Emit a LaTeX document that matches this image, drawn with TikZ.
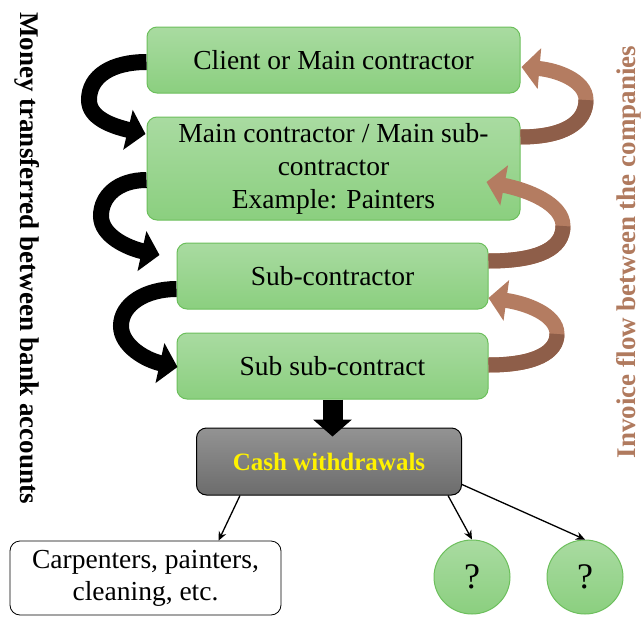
\documentclass[tikz,border=0pt]{standalone}
\usepackage{fontspec}
\setmainfont{Liberation Serif}
\usetikzlibrary{arrows.meta,calc,shapes.geometric}

\definecolor{boxtop}{HTML}{A9DBA1}
\definecolor{boxbot}{HTML}{8BCF7F}
\definecolor{boxedge}{HTML}{6CBF5C}
\definecolor{cashtop}{HTML}{939393}
\definecolor{cashbot}{HTML}{6C6C6C}
\definecolor{brownlt}{HTML}{B47C61}
\definecolor{browndk}{HTML}{8E5E49}
\definecolor{invtext}{HTML}{B07A5E}

\tikzset{
  firm/.style={draw=boxedge, line width=1pt, rounded corners=10pt,
    top color=boxtop, bottom color=boxbot, align=center,
    font=\fontsize{27.5}{33}\selectfont, inner sep=0pt},
  cashbox/.style={draw=black, line width=1pt, rounded corners=10pt,
    top color=cashtop, bottom color=cashbot, text=yellow,
    font=\bfseries\fontsize{25}{30}\selectfont, inner sep=0pt},
  workers/.style={draw=black, line width=0.8pt, rounded corners=10pt,
    fill=white, align=center, font=\fontsize{27.5}{32}\selectfont, inner sep=0pt},
  unknown/.style={draw=boxedge, line width=1pt, ellipse,
    top color=boxtop, bottom color=boxbot, minimum width=76pt,
    minimum height=74pt, font=\fontsize{36}{36}\selectfont, inner sep=0pt},
  money/.style={draw=black, line width=16pt,
    -{Triangle[length=18pt,width=40pt]}},
  invoice/.style={draw=brownlt, line width=15pt,
    -{Triangle[length=18pt,width=40pt]}},
  invback/.style={draw=browndk, line width=15pt},
  payout/.style={draw=black, line width=1.3pt, -{Stealth[length=9pt,width=8pt]}},
  sidelabel/.style={font=\bfseries\fontsize{27}{30}\selectfont, inner sep=0pt}
}

\begin{document}
\begin{tikzpicture}[x=1pt,y=-1pt]
\useasboundingbox (0,0) rectangle (641,619);

% company chain
\node[firm, minimum width=373pt, minimum height=66pt] (b1) at (333.5,60)
  {Client or Main contractor};
\node[firm, minimum width=373pt, minimum height=103pt] (b2) at (333.5,168.5)
  {Main contractor / Main sub-\\contractor\\Example: Painters};
\node[firm, minimum width=311pt, minimum height=66pt] (b3) at (332.5,276)
  {Sub-contractor};
\node[firm, minimum width=311pt, minimum height=66pt] (b4) at (332.5,366)
  {Sub sub-contract};

% cash and where it goes
\node[cashbox, minimum width=265pt, minimum height=67pt] (cash) at (329,461.5)
  {Cash withdrawals};
\node[workers, minimum width=271pt, minimum height=74pt] (carp) at (145.5,578)
  {Carpenters, painters,\\cleaning, etc.};
\node[unknown] (q1) at (472,577) {?};
\node[unknown] (q2) at (585,577) {?};

% money flow down the left side
\draw[money] ($(b1.west)+(0,2)$) .. controls (112,62) and (89,76) .. (89,100)
  .. controls (89,118) and (112,126) .. ($(b2.west)+(-1,-34.5)$);
\draw[money] ($(b2.west)+(0,11.5)$) .. controls (118,180) and (101,196) .. (101,216)
  .. controls (101,236) and (128,248) .. ($(b3.west)+(-17,-21)$);
\draw[money] ($(b3.west)+(0,13)$) .. controls (146,289) and (121,304) .. (121,326)
  .. controls (121,346) and (146,360) .. ($(b4.west)+(1,1)$);

% invoices up the right side
\draw[invoice] ($(b2.east)+(0,-31.5)$) .. controls (565,137) and (586,122) .. (586,100)
  .. controls (586,80) and (556,70) .. ($(b1.east)+(1,7)$);
\draw[invback] ($(b2.east)+(0,-31.5)$) .. controls (565,137) and (586,122) .. (586,100);
\draw[invoice] ($(b3.east)+(0,-15)$) .. controls (540,261) and (563,248) .. (563,226)
  .. controls (563,204) and (528,190) .. ($(b3.east)+(-2,-94)$);
\draw[invback] ($(b3.east)+(0,-15)$) .. controls (540,261) and (563,248) .. (563,226);
\draw[invoice] ($(b4.east)+(0,-1)$) .. controls (536,365) and (557,352) .. (557,334)
  .. controls (557,314) and (525,303) .. ($(b3.east)+(0,22)$);
\draw[invback] ($(b4.east)+(0,-1)$) .. controls (536,365) and (557,352) .. (557,334);

% block arrow into the cash box
\coordinate (drop) at ($(cash.north)+(4,9)$);
\draw[line width=20pt, -{Triangle[length=17pt,width=38pt]}]
  (b4.south) -- (b4.south |- drop);

% payouts
\draw[payout] ($(cash.south west)+(44,0)$) -- ($(carp.north west)+(209,0)$);
\draw[payout] ($(cash.south east)+(-14,0)$) -- (q1.north);
\draw[payout] ($(cash.south east)+(0,-11)$) -- (q2.north);

% side captions
\node[sidelabel, rotate=-90] (money) at (27,258)
  {Money transferred between bank accounts};
\node[sidelabel, rotate=90, text=invtext] (inv) at (629,252)
  {Invoice flow between the companies};
\end{tikzpicture}
\end{document}
